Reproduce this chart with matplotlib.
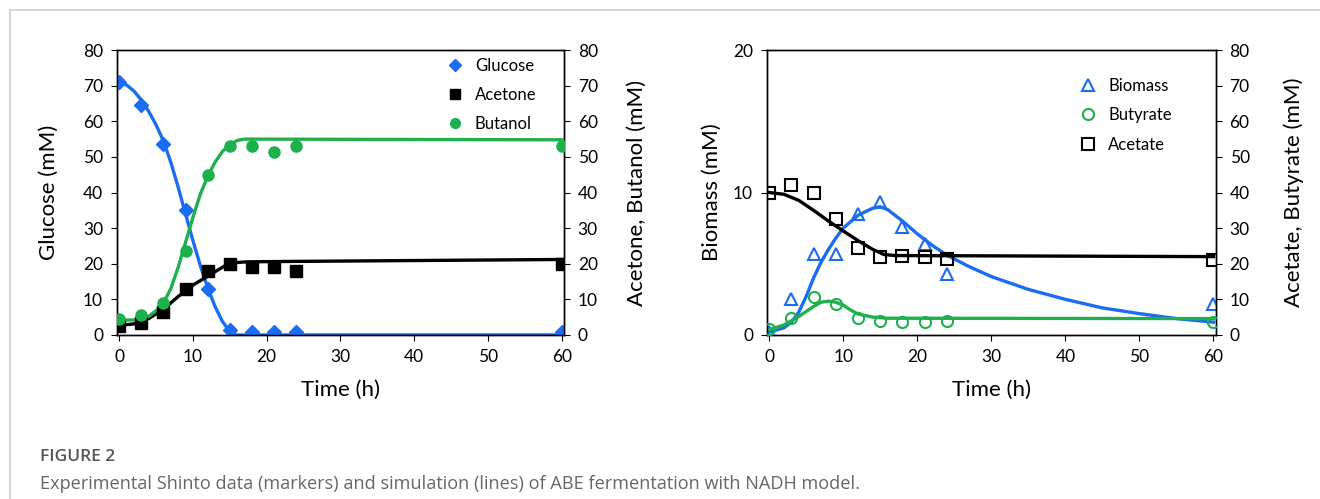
import numpy as np
import matplotlib
matplotlib.use('Agg')
import matplotlib.pyplot as plt
from matplotlib.lines import Line2D

# ── colours ───────────────────────────────────────────────────────────
BLUE  = '#1a6cf0'
GREEN = '#1db04c'
BLACK = '#000000'
GRAY  = '#555555'

plt.rcParams.update({
    'font.family': ['Lato', 'DejaVu Sans'],
    'axes.linewidth': 1.0,
    'xtick.major.size': 4,
    'ytick.major.size': 4,
    'xtick.major.pad': 6,
    'ytick.major.pad': 6,
    'xtick.labelsize': 12.5,
    'ytick.labelsize': 12.5,
})

# ── experimental data (markers) ───────────────────────────────────────
t_exp = [0, 3, 6, 9, 12, 15, 18, 21, 24, 60]

glucose = [71, 64.5, 53.5, 35, 13, 1.5, 0.8, 0.8, 0.8, 0.8]
acetone = [2.5, 3.5, 6.5, 13, 18, 20, 19, 19, 18, 20]
butanol = [4.5, 5.5, 9, 23.5, 45, 53, 53, 51.5, 53, 53]

biomass  = [0.2, 2.5, 5.7, 5.7, 8.5, 9.3, 7.6, 6.4, 4.3, 2.2]
butyrate = [1.8, 4.8, 10.7, 8.7, 4.8, 3.9, 3.6, 3.6, 3.9, 3.6]
acetate  = [40, 42, 40, 32.5, 24.4, 21.9, 22.2, 22, 21.3, 21]

# ── simulation (lines) ───────────────────────────────────────────────
t_glu   = [0, 1, 2, 3, 4, 5, 6, 7, 8, 9, 10, 11, 12, 13, 14, 15, 15.8, 60]
glu_sim = [70.8, 70.2, 68.5, 66, 62.8, 59, 54.5, 48.5, 41.5, 34, 26.5, 19.5,
           13.3, 8, 3.8, 1.0, 0, 0]

t_ace   = [0, 2, 4, 6, 8, 10, 12, 14, 15, 17, 20, 60]
ace_sim = [2.7, 3.1, 4.6, 7.2, 10.8, 14.0, 16.5, 19.0, 20.2, 20.5, 20.6, 21.2]

t_but   = [0, 2, 3, 4, 5, 6, 7, 8, 9, 10, 11, 12, 13, 14, 15, 16, 17, 60]
but_sim = [4.2, 4.2, 4.4, 5.2, 6.8, 9.0, 13.0, 19.0, 26.0, 33.0, 39.5, 44.5,
           48.5, 51.5, 53.5, 54.6, 55.0, 54.8]

t_bio   = [0, 2, 3, 4, 5, 6, 7, 8, 9, 10, 12, 14, 15, 16, 18, 20, 22, 24,
           27, 30, 35, 40, 45, 50, 55, 60]
bio_sim = [0.2, 0.5, 0.9, 1.6, 2.7, 4.0, 5.1, 6.0, 6.8, 7.5, 8.4, 8.9, 9.0,
           8.8, 8.0, 7.1, 6.3, 5.6, 4.8, 4.1, 3.2, 2.5, 1.9, 1.5, 1.15, 0.9]

t_acet   = [0, 2, 4, 6, 8, 10, 12, 14, 15.5, 17, 60]
acet_sim = [40, 39.5, 37.8, 35.0, 32.0, 29.2, 26.5, 24.0, 22.6, 22.3, 22]

t_buty   = [0, 2, 4, 6, 7, 8, 9, 10, 11, 12, 14, 16, 60]
buty_sim = [1.5, 2.8, 5.2, 8.0, 9.2, 9.5, 9.2, 8.4, 7.0, 5.9, 5.0, 4.7, 4.6]

x_ticks = [0, 10, 20, 30, 40, 50, 60]


def style_axes(ax):
    ax.set_xlim(-0.3, 60.3)
    ax.set_xticks(x_ticks)
    ax.tick_params(direction='out')
    ax.set_xlabel('Time (h)', fontsize=16, labelpad=11)


fig = plt.figure(figsize=(13.2, 4.99), dpi=100)

# ── left panel ────────────────────────────────────────────────────────
ax1 = fig.add_axes([0.0886, 0.3287, 0.3386, 0.571])
ax1r = ax1.twinx()
style_axes(ax1)
ax1.set_ylim(0, 80)
ax1.set_yticks(range(0, 81, 10))
ax1r.set_ylim(0, 80)
ax1r.set_yticks(range(0, 81, 10))
ax1r.tick_params(direction='out')

ax1.plot(t_glu, glu_sim, color=BLUE, lw=2.4, zorder=2)
ax1r.plot(t_ace, ace_sim, color=BLACK, lw=2.4, zorder=2)
ax1r.plot(t_but, but_sim, color=GREEN, lw=2.4, zorder=2)
ax1.plot(t_exp, glucose, 'D', color=BLUE, ms=7, zorder=3)
ax1r.plot(t_exp, acetone, 's', color=BLACK, ms=8, zorder=3)
ax1r.plot(t_exp, butanol, 'o', color=GREEN, ms=8, zorder=3)

ax1.set_ylabel('Glucose (mM)', fontsize=16, labelpad=17)
ax1r.set_ylabel('Acetone, Butanol (mM)', fontsize=16, labelpad=21)

h1 = [Line2D([], [], ls='', marker='D', color=BLUE, ms=6),
      Line2D([], [], ls='', marker='s', color=BLACK, ms=7),
      Line2D([], [], ls='', marker='o', color=GREEN, ms=7)]
ax1r.legend(h1, ['Glucose', 'Acetone', 'Butanol'], loc='upper left',
            bbox_to_anchor=(0.70, 1.025), frameon=False, fontsize=12,
            labelspacing=0.78, handletextpad=0.6, handlelength=1.2)

# ── right panel ───────────────────────────────────────────────────────
ax2 = fig.add_axes([0.581, 0.3287, 0.340, 0.571])
ax2r = ax2.twinx()
style_axes(ax2)
ax2.set_ylim(0, 20)
ax2.set_yticks([0, 10, 20])
ax2r.set_ylim(0, 80)
ax2r.set_yticks(range(0, 81, 10))
ax2r.tick_params(direction='out')

ax2.plot(t_bio, bio_sim, color=BLUE, lw=2.4, zorder=2)
ax2r.plot(t_acet, acet_sim, color=BLACK, lw=2.4, zorder=2)
ax2r.plot(t_buty, buty_sim, color=GREEN, lw=2.4, zorder=2)
ax2.plot(t_exp, biomass, '^', mfc='none', mec=BLUE, mew=1.5, ms=8, zorder=3)
ax2r.plot(t_exp, butyrate, 'o', mfc='none', mec=GREEN, mew=1.5, ms=8, zorder=3)
ax2r.plot(t_exp, acetate, 's', mfc='none', mec=BLACK, mew=1.5, ms=8, zorder=3)

ax2.set_ylabel('Biomass (mM)', fontsize=16, labelpad=8)
ax2r.set_ylabel('Acetate, Butyrate (mM)', fontsize=16, labelpad=24)

h2 = [Line2D([], [], ls='', marker='^', mfc='none', mec=BLUE, mew=1.5, ms=8),
      Line2D([], [], ls='', marker='o', mfc='none', mec=GREEN, mew=1.5, ms=8),
      Line2D([], [], ls='', marker='s', mfc='none', mec=BLACK, mew=1.5, ms=8)]
ax2r.legend(h2, ['Biomass', 'Butyrate', 'Acetate'], loc='upper left',
            bbox_to_anchor=(0.66, 0.955), frameon=False, fontsize=12,
            labelspacing=0.8, handletextpad=0.6, handlelength=1.2)

# ── page frame and caption ────────────────────────────────────────────
fig.add_artist(Line2D([10 / 1320, 10 / 1320], [0, 1 - 10 / 499],
                      color='#d0d0d0', lw=1.2, transform=fig.transFigure))
fig.add_artist(Line2D([10 / 1320, 1], [1 - 10 / 499, 1 - 10 / 499],
                      color='#d0d0d0', lw=1.2, transform=fig.transFigure))

fig.text(40 / 1320, 1 - 457 / 499, 'FIGURE 2', fontsize=12.5,
         color=GRAY, va='center', fontweight='semibold',
         family=['Open Sans', 'DejaVu Sans'])
fig.text(40 / 1320, 1 - 484 / 499,
         'Experimental Shinto data (markers) and simulation (lines) of ABE '
         'fermentation with NADH model.', fontsize=13.1, color='#666666',
         va='center', family=['Open Sans', 'DejaVu Sans'])

fig.savefig('out.png', dpi=100)
